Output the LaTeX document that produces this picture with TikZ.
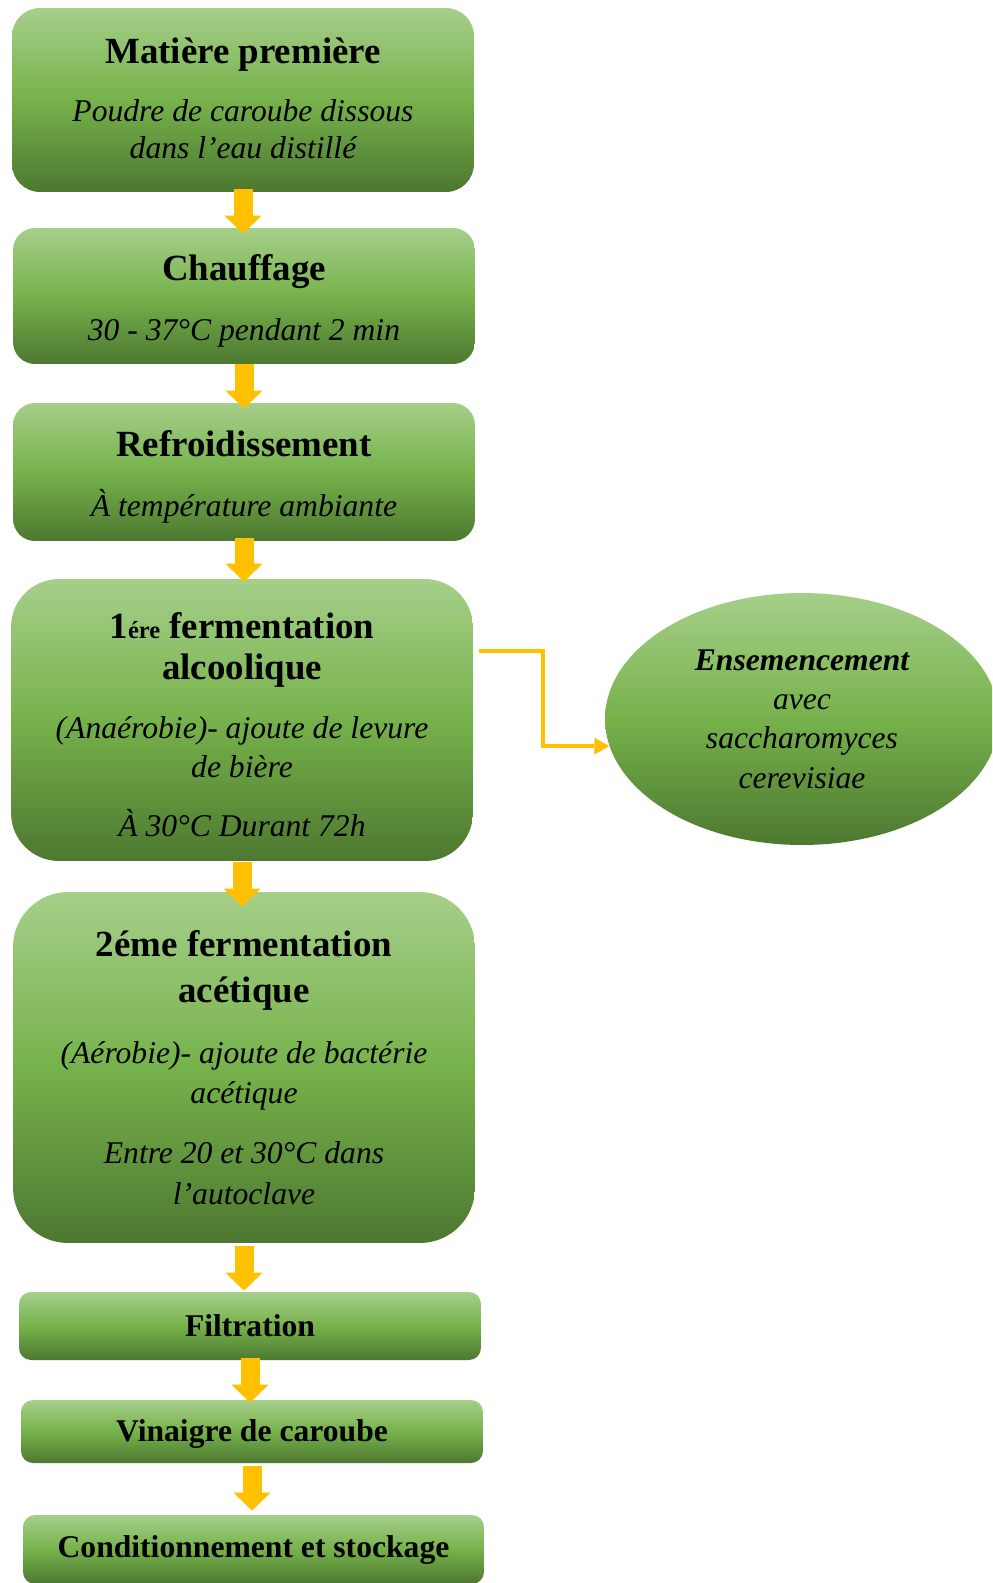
\documentclass[tikz,border=0pt]{standalone}
\usepackage{fontspec}
\setmainfont{Liberation Serif}
\usetikzlibrary{arrows.meta,positioning,shapes.geometric}
\definecolor{gtop}{RGB}{166,207,138}
\definecolor{gmid}{RGB}{118,178,75}
\definecolor{gbot}{RGB}{77,120,48}
\definecolor{flowyellow}{RGB}{255,192,0}
\newcommand{\StepTitle}{\fontsize{21}{25}\selectfont\bfseries\upshape}
\newcommand{\StepText}{\fontsize{18}{22.4}\selectfont\itshape}
\newcommand{\StepName}{\fontsize{18}{22.4}\selectfont\bfseries}
\newcommand{\TopStrut}[1]{\rule{0pt}{#1}}
\newcommand{\LowStrut}[1]{\rule[-#1]{0pt}{#1}}
\tikzset{
  stepbox/.style={rectangle,top color=gtop,bottom color=gbot,middle color=gmid,
                  draw=none,inner sep=0pt,minimum width=9.24cm,align=center,
                  font=\StepText},
  namebox/.style={stepbox,rounded corners=0.24cm,font=\StepName},
  seedbox/.style={ellipse,top color=gtop,bottom color=gbot,middle color=gmid,
                  draw=none,inner sep=0pt,minimum width=7.88cm,minimum height=5.04cm,
                  align=center,font=\StepText},
  flow/.style={draw=flowyellow,line width=0.38cm,
               -{Triangle[length=0.36cm,width=0.74cm,line width=0pt]}},
  side/.style={draw=flowyellow,line width=0.075cm,
               -{Triangle[length=0.3cm,width=0.34cm,line width=0pt]}},
}

\begin{document}
\begin{tikzpicture}[x=0.02cm,y=-0.02cm]
  \useasboundingbox (0,0) rectangle (992,1583);
  \clip (0,0) rectangle (992,1583);
  % main chain
  \node[stepbox,minimum height=3.68cm,rounded corners=0.56cm] (mp) at (243,100)
    {{\StepTitle Matière première}\\[11.1pt]
     Poudre de caroube dissous\\[-1.7pt] dans l’eau distillé\LowStrut{2.5pt}};
  \node[stepbox,minimum height=2.72cm,rounded corners=0.44cm] (ch) at (244,296)
    {{\StepTitle\TopStrut{20.7pt}Chauffage}\\[11.6pt] 30 - 37°C pendant 2 min};
  \node[stepbox,minimum height=2.76cm,rounded corners=0.44cm] (rf) at (244,472)
    {{\StepTitle\TopStrut{20.7pt}Refroidissement}\\[11.6pt] À température ambiante};
  \node[stepbox,minimum height=5.64cm,rounded corners=0.96cm] (f1) at (242,720)
    {{\StepTitle\TopStrut{20.1pt}1{\fontsize{14}{16}\selectfont ére} fermentation}\\[0.9pt]
     {\StepTitle alcoolique}\\[11pt]
     (Anaérobie)- ajoute de levure\\ de bière\\[11pt]
     À 30°C Durant 72h};
  \node[stepbox,minimum height=7.02cm,rounded corners=1.1cm] (f2) at (244,1067.5)
    {{\StepTitle 2éme fermentation}\\[3.7pt]
     {\StepTitle acétique}\\[12.5pt]
     (Aérobie)- ajoute de bactérie\\[0.6pt] acétique\\[11.6pt]
     Entre 20 et 30°C dans\\[0.9pt] l’autoclave};
  \node[namebox,minimum height=1.36cm] (fi) at (250,1326) {Filtration};
  \node[namebox,minimum height=1.26cm] (vi) at (252,1431.5)
    {\TopStrut{15.8pt}Vinaigre de caroube};
  \node[namebox,minimum height=1.38cm,minimum width=9.22cm] (co) at (253.5,1549.5)
    {Conditionnement et stockage};
  % inoculation
  \node[seedbox] (en) at (802,719)
    {{\bfseries Ensemencement}\\ avec\\ saccharomyces\\ cerevisiae};
  % arrows
  \foreach \a/\b/\s/\e in {mp/ch/-3/-6,ch/rf/0/-6,rf/f1/-3/-3,f1/f2/1/-15,
                           f2/fi/3/1,fi/vi/-2/-3,vi/co/3/4}
    {\draw[flow,shorten <=\s*0.02cm,shorten >=\e*0.02cm]
       (\a.south) -- (\a.south |- \b.north);}
  \draw[side] ([shift={(6,-69)}]f1.east) -- ++(64,0) |- (en.188);
\end{tikzpicture}
\end{document}
